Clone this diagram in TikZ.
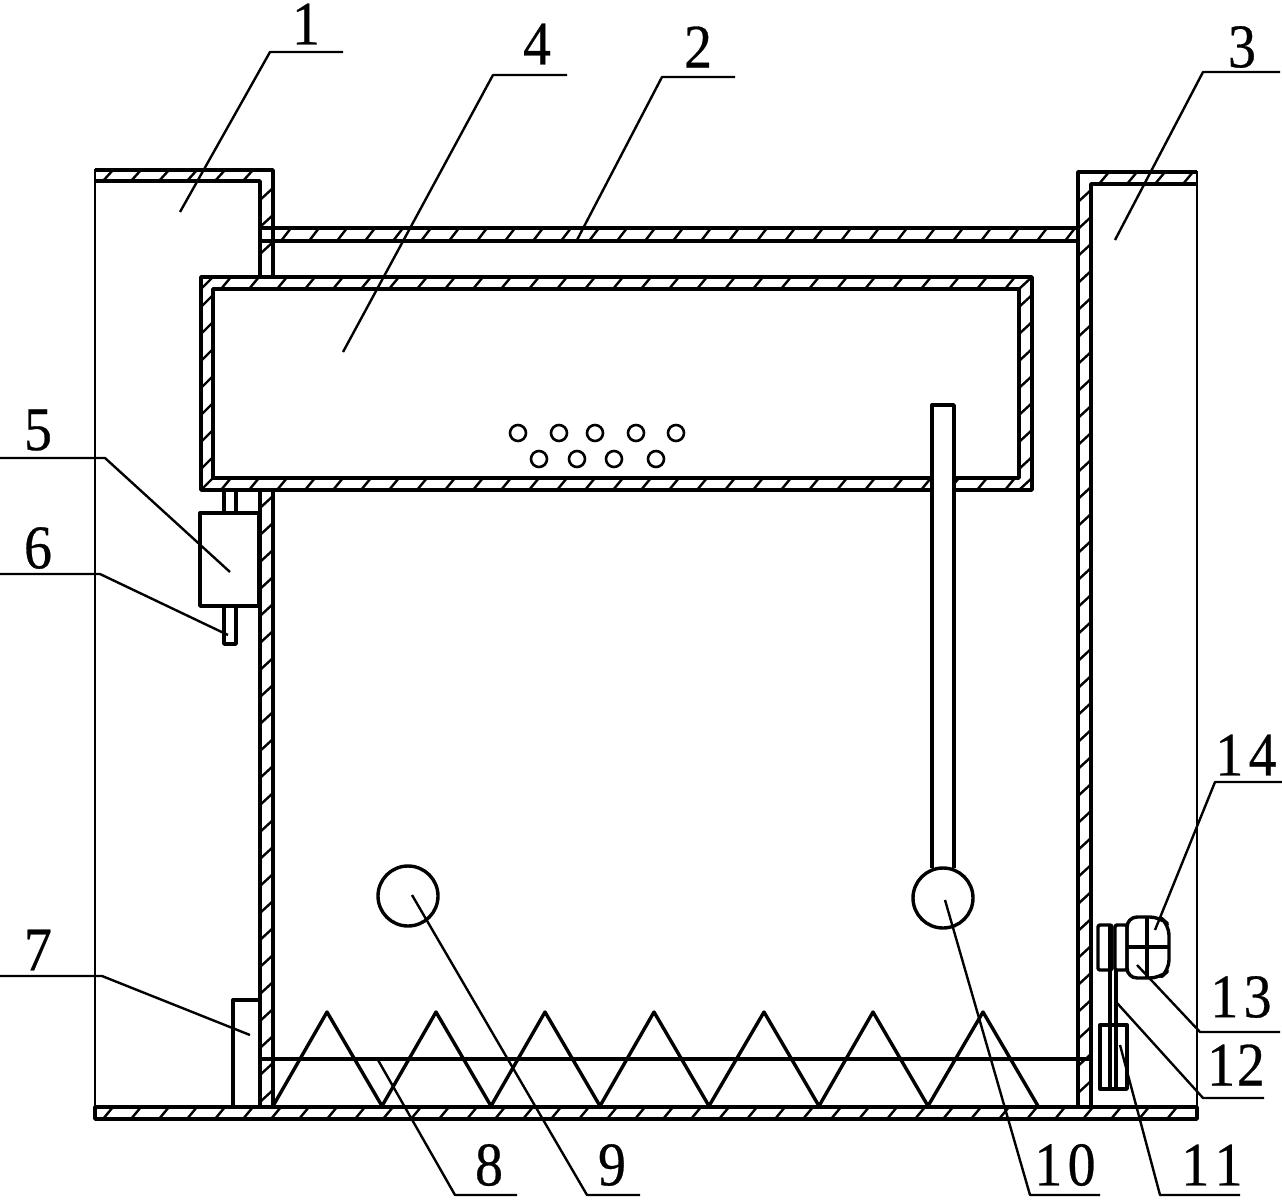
\documentclass[tikz,border=0pt]{standalone}
\usepackage{fontspec}
\setmainfont{Liberation Serif}
\newfontfamily\numfont[FakeBold=0.5]{Liberation Serif}
\newcommand{\hticks}[4]{% x1,x2,ytop,ybottom
  \pgfmathsetmacro{\stopx}{#2-8}
  \pgfmathsetmacro{\firstx}{#1+8}
  \pgfmathsetmacro{\nextx}{#1+36}
  \foreach \xx in {\firstx,\nextx,...,\stopx} \draw[tick] (\xx,#4) -- ++(10,#3-#4);
}
\newcommand{\vticks}[4]{% xleft,xright,y1,y2
  \pgfmathsetmacro{\stopy}{#4-16}
  \pgfmathsetmacro{\firsty}{#3+6}
  \pgfmathsetmacro{\nexty}{#3+33}
  \foreach \yy in {\firsty,\nexty,...,\stopy} \draw[tick] (#1,\yy+12) -- ++(#2-#1,-12);
}
\tikzset{
  wall/.style={line width=3.6pt,line join=round},
  tick/.style={line width=2.4pt},
  part/.style={line width=3.4pt,line join=round},
  thin side/.style={line width=2pt},
  leader/.style={line width=2.4pt,line join=round},
  num/.style={font=\numfont\fontsize{62}{62}\selectfont,inner sep=0pt,anchor=center,xscale=.9}
}
\begin{document}
\begin{tikzpicture}[x=1pt,y=-1pt]
\useasboundingbox (0,0) rectangle (1282,1202);
\fill[white] (0,0) rectangle (1282,1202);
% side lines
\draw[thin side] (95,169) -- (95,1119);
\draw[thin side] (1197,171) -- (1197,1119);
% left vessel top and wall
\hticks{95}{260}{170}{181}
\vticks{260}{273}{182}{276}
\vticks{260}{273}{490}{1106}
\draw[wall] (95,181) -- (260,181) -- (260,276) (95,170) -- (273,170) -- (273,276);
\draw[wall] (260,490) -- (260,1106) (273,490) -- (273,1106);
% plate 2
\hticks{273}{1078}{228}{241}
\draw[wall] (260,228) rectangle (1078,241);
% right wall and top
\hticks{1091}{1197}{172}{184}
\vticks{1078}{1091}{184}{1106}
\draw[wall] (1078,1106) -- (1078,172) -- (1197,172) (1091,1106) -- (1091,184) -- (1197,184);
% bottom
\hticks{95}{1197}{1107}{1119}
\draw[wall] (95,1107) rectangle (1197,1119);
% box 4
\hticks{213}{1019}{277}{289}
\hticks{213}{1019}{478}{490}
\vticks{201}{213}{289}{478}
\vticks{1019}{1032}{289}{478}
\draw[wall] (201,277) rectangle (1032,490);
\draw[wall] (213,289) rectangle (1019,478);
\draw[tick] (201,289) -- (213,277) (201,490) -- (213,478) (1019,289) -- (1032,277) (1019,490) -- (1032,478);
% holes
\foreach \hx/\hy in {518/433,559/433,595/433,636/433,676/433,539/459,577/459,614/459,656/459}
  \draw[part,line width=2.6pt] (\hx,\hy) circle (8);
% rod and ball 10
\fill[white] (932,405) rectangle (954,868);
\draw[part] (932,868) -- (932,405) -- (954,405) -- (954,868);
\draw[part] (943,898) circle (30);
\draw[part] (408,896) circle (30);
% box 5, 6
\draw[part] (224,490) -- (224,513) (236,490) -- (236,513);
\draw[part] (200,513) rectangle (259,606);
\draw[part] (224,606) -- (224,644) -- (236,644) -- (236,606);
% box 7
\draw[part] (260,1000) -- (233,1000) -- (233,1106);
% plate and zigzag
\draw[part] (260,1059) -- (1090,1059);
\draw[part] (273,1106) -- (327,1012) -- (382,1106) -- (436,1012) -- (491,1106) -- (545,1012) -- (600,1106) -- (654,1012) -- (709,1106) -- (764,1012) -- (819,1106) -- (873,1012) -- (928,1106) -- (983,1012) -- (1038,1106);
% drive
\draw[part,rounded corners=2pt] (1098,925) rectangle (1112,970);
\draw[part,rounded corners=2pt] (1115,925) rectangle (1127,970);
\draw[part,rounded corners=10pt] (1127,917) -- (1160,917) -- (1169,925) -- (1169,970) -- (1160,978) -- (1127,978) -- cycle;
\draw[part] (1147,917) -- (1147,978) (1127,947) -- (1169,947);
\draw[part] (1100,1025) rectangle (1127,1089);
\draw[part] (1110,925) -- (1110,1089) (1116,970) -- (1116,1089);
% labels
\node[num] (n1) at (306,24) {1};
\node[num] (n2) at (698,47) {2};
\node[num] (n3) at (1242,47) {3};
\node[num] (n4) at (537,44) {4};
\node[num] (n5) at (38,430) {5};
\node[num] (n6) at (38,548) {6};
\node[num] (n7) at (38,950) {7};
\node[num] (n8) at (489,1165) {8};
\node[num] (n9) at (612,1165) {9};
\node[num] (n10) at (1065,1165) {1\kern6pt 0};
\node[num] (n11) at (1212,1165) {1\kern6pt 1};
\node[num] (n12) at (1236,1065) {1\kern2pt 2};
\node[num] (n13) at (1241,997) {1\kern6pt 3};
\node[num] (n14) at (1246,755) {1\kern6pt 4};
% leaders
\foreach \ax/\ay/\bx/\by/\cx/\cy in {
  180/212/270/52/343/52,
  343/352/493/75/567/75,
  577/240/662/77/735/77,
  1115/240/1203/72/1280/72,
  230/572/105/458/0/458,
  228/635/100/574/0/574,
  250/1035/102/976/0/976,
  378/1060/455/1195/517/1195,
  412/895/587/1195/640/1195,
  945/900/1030/1195/1100/1195,
  1120/1045/1160/1195/1240/1195,
  1117/1003/1203/1098/1264/1098,
  1137/965/1200/1032/1280/1032,
  1155/930/1215/782/1282/782}
  \draw[leader] (\ax,\ay) -- (\bx,\by) -- (\cx,\cy);
\end{tikzpicture}
\end{document}
